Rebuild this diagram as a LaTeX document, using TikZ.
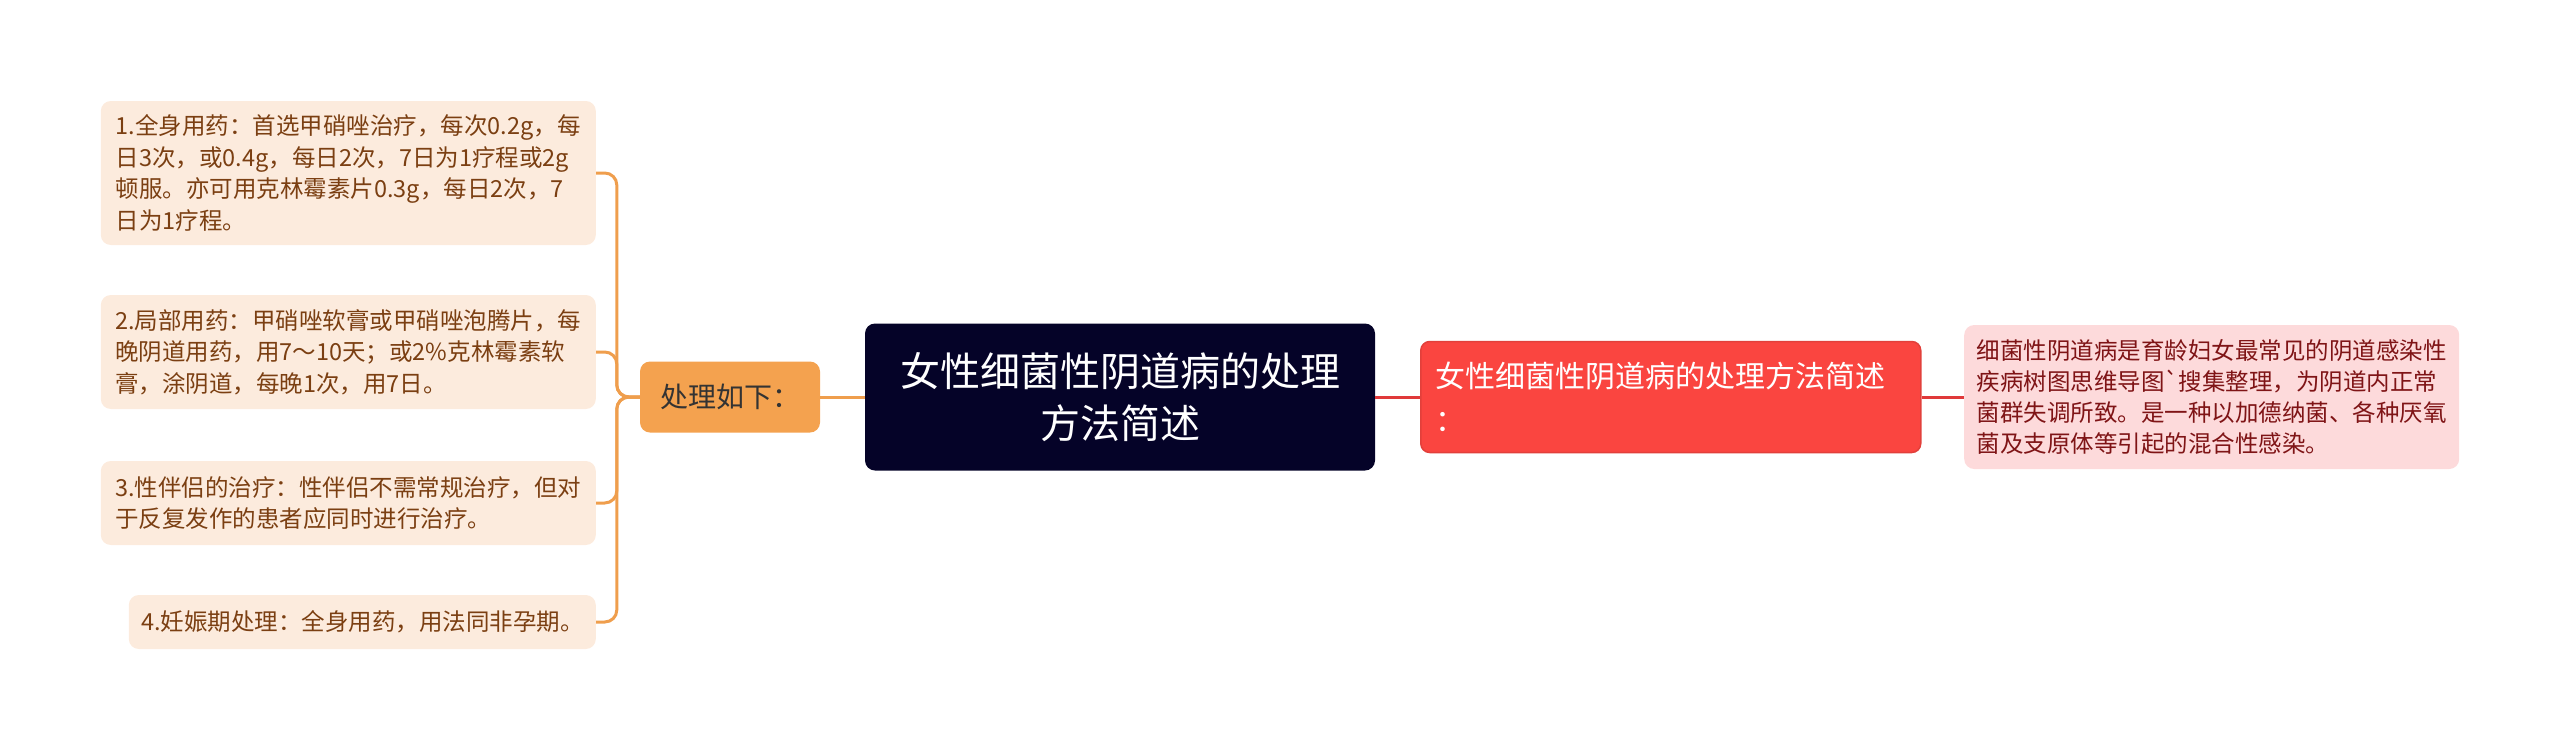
\documentclass[tikz,border=0pt]{standalone}
\usepackage{fontspec}
\setmainfont{Noto Sans CJK SC}[Ligatures=TeXOff]
\usetikzlibrary{positioning}
\definecolor{leafbg}{HTML}{FCEBDD}
\definecolor{leaftext}{HTML}{7B3F12}
\definecolor{orangeline}{HTML}{EF9E4D}
\definecolor{midfill}{HTML}{F4A24F}
\definecolor{rootfill}{HTML}{050328}
\definecolor{redfill}{HTML}{FA4540}
\definecolor{redborder}{HTML}{E2403B}
\definecolor{pinkfill}{HTML}{FDDADB}
\definecolor{pinktext}{HTML}{7F1416}
\definecolor{redline}{HTML}{E0393A}

\begin{document}
\begin{tikzpicture}[x=1pt,y=-1pt,
  leaf/.style={fill=leafbg,text=leaftext,rounded corners=10pt,align=left,
    anchor=east,minimum width=495pt,font=\fontsize{23.5}{31.5}\selectfont},
  mid/.style={fill=midfill,text=black!80,rounded corners=10pt,
    minimum width=180pt,minimum height=71pt,font=\fontsize{28}{34}\selectfont},
  topic/.style={fill=rootfill,text=white,rounded corners=10pt,align=center,
    minimum width=510pt,minimum height=147pt,font=\fontsize{40}{52}\selectfont},
  sub/.style={fill=redfill,draw=redborder,line width=1.5pt,text=white,rounded corners=9pt,
    anchor=west,text width=470pt,inner xsep=15pt,align=left,minimum height=111pt,
    font=\fontsize{30}{44}\selectfont},
  note/.style={fill=pinkfill,text=pinktext,rounded corners=10pt,align=left,
    anchor=west,minimum width=495pt,minimum height=144pt,font=\fontsize{23.5}{31}\selectfont},
  oline/.style={draw=orangeline,line width=3pt,rounded corners=12pt},
  rline/.style={draw=redline,line width=3pt}]
\useasboundingbox (0,0) rectangle (2560,750);

\node[topic] (root) at (1120,397) {女性细菌性阴道病的处理\\方法简述};
\node[mid] (how) at (730,397) {处理如下：};

\node[leaf,minimum height=144pt] (drug1) at (596,173) {1.全身用药：首选甲硝唑治疗，每次0.2g，每\\日3次，或0.4g，每日2次，7日为1疗程或2g\\顿服。亦可用克林霉素片0.3g，每日2次，7\\日为1疗程。};
\node[leaf,minimum height=114pt] (drug2) at (596,352) {2.局部用药：甲硝唑软膏或甲硝唑泡腾片，每\\晚阴道用药，用7～10天；或2\%克林霉素软\\膏，涂阴道，每晚1次，用7日。};
\node[leaf,minimum height=84pt] (drug3) at (596,503) {3.性伴侣的治疗：性伴侣不需常规治疗，但对\\于反复发作的患者应同时进行治疗。};
\node[leaf,minimum width=467pt,minimum height=54pt] (drug4) at (596,622) {4.妊娠期处理：全身用药，用法同非孕期。};

\node[sub] (summary) at (1420,397) {女性细菌性阴道病的处理方法简述\\：};
\node[note] (intro) at (1964,397) {细菌性阴道病是育龄妇女最常见的阴道感染性\\疾病树图思维导图`搜集整理，为阴道内正常\\菌群失调所致。是一种以加德纳菌、各种厌氧\\菌及支原体等引起的混合性感染。};

\path[oline] (root.west) -- (how.east);
\foreach \leafname in {drug1,drug2,drug3,drug4}
  \path[oline] (how.west) -- ++(-23,0) |- (\leafname.east);
\path[rline] (root.east) -- (summary.west)
  (summary.east) -- (intro.west);
\end{tikzpicture}
\end{document}
